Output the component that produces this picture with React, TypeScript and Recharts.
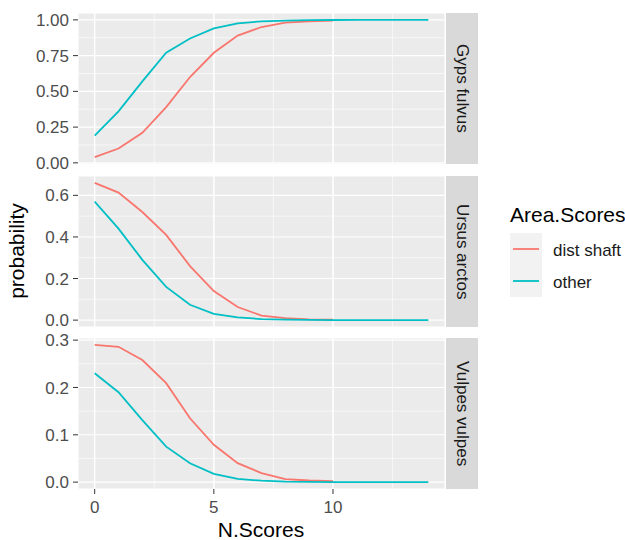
import { LineChart, Line, XAxis, YAxis, CartesianGrid, ReferenceLine } from 'recharts'

const N_SCORES = [0, 1, 2, 3, 4, 5, 6, 7, 8, 9, 10, 11, 12, 13, 14]
const AREA_SCORES = ['dist shaft', 'other']
const AREA_COLORS = ['#F8766D', '#00BFC4']

// Gyps fulvus
const GYPS_DIST = [0.04, 0.1, 0.21, 0.39, 0.6, 0.77, 0.89, 0.95, 0.98, 0.99, 0.995]
const GYPS_OTHER = [0.19, 0.36, 0.57, 0.77, 0.87, 0.94, 0.975, 0.99, 0.995, 0.998, 0.999, 1, 1, 1, 1]
// Ursus arctos
const URSUS_DIST = [0.66, 0.613, 0.52, 0.41, 0.26, 0.14, 0.063, 0.022, 0.01, 0.004, 0.002]
const URSUS_OTHER = [0.57, 0.44, 0.29, 0.16, 0.074, 0.03, 0.013, 0.005, 0.002, 0.001, 0.0005, 0.0002, 0.0001, 0, 0]
// Vulpes vulpes
const VULPES_DIST = [0.29, 0.286, 0.258, 0.209, 0.135, 0.079, 0.04, 0.019, 0.0063, 0.0035, 0.002]
const VULPES_OTHER = [0.23, 0.19, 0.131, 0.075, 0.04, 0.0176, 0.007, 0.003, 0.001, 0.0005, 0.0002, 0.0001, 0, 0, 0]

const X_TICKS = [0, 5, 10]
const X_MINOR = [2.5, 7.5, 12.5]
const GYPS_TICKS = [0, 0.25, 0.5, 0.75, 1]
const GYPS_MINOR = [0.125, 0.375, 0.625, 0.875]
const URSUS_TICKS = [0, 0.2, 0.4, 0.6]
const URSUS_MINOR = [0.1, 0.3, 0.5]
const VULPES_TICKS = [0, 0.1, 0.2, 0.3]
const VULPES_MINOR = [0.05, 0.15, 0.25]

const FONT = '"Liberation Sans", Arial, sans-serif'
const PANEL_H = 151
const CHART_W = 445
const AXIS_W = 78
const PAD = 12 // room above/below each panel so edge tick labels are kept

interface PanelProps {
  top: number
  label: string
  dist: number[]
  other: number[]
  ticks: number[]
  minor: number[]
  digits: number
  showX?: boolean
}

function Panel({ top, label, dist, other, ticks, minor, digits, showX }: PanelProps) {
  const data = N_SCORES.map((x, i) => ({
    x,
    dist: i < dist.length ? dist[i] : null,
    other: i < other.length ? other[i] : null,
  }))
  const vals = [...dist, ...other]
  const lo = Math.min(...vals)
  const hi = Math.max(...vals)
  const pad = (hi - lo) * 0.05
  const xPad = (N_SCORES[N_SCORES.length - 1] - N_SCORES[0]) * 0.05
  const tickStyle = { fontSize: 17, fill: '#4D4D4D', fontFamily: FONT }

  return (
    <>
      <div style={{ position: 'absolute', left: 0, top: top - PAD }}>
        <LineChart
          width={CHART_W}
          height={PANEL_H + 2 * PAD + (showX ? 40 : 0)}
          data={data}
          margin={{ top: PAD, right: 0, bottom: PAD, left: 0 }}
        >
          <CartesianGrid fill="#EBEBEB" stroke="#FFFFFF" strokeWidth={1.1} />
          <XAxis
            type="number"
            dataKey="x"
            domain={[N_SCORES[0] - xPad, N_SCORES[N_SCORES.length - 1] + xPad]}
            ticks={X_TICKS}
            interval={0}
            hide={!showX}
            height={40}
            axisLine={false}
            tickSize={5}
            tickMargin={7}
            tickLine={{ stroke: '#333333' }}
            tick={tickStyle}
          />
          <YAxis
            type="number"
            domain={[lo - pad, hi + pad]}
            ticks={ticks}
            interval={0}
            width={AXIS_W}
            axisLine={false}
            tickSize={5}
            tickMargin={4}
            tickLine={{ stroke: '#333333' }}
            tick={tickStyle}
            tickFormatter={(v: number) => v.toFixed(digits)}
          />
          {minor.map((v) => (
            <ReferenceLine key={'ym' + v} y={v} stroke="#FFFFFF" strokeWidth={0.6} />
          ))}
          {X_MINOR.map((v) => (
            <ReferenceLine key={'xm' + v} x={v} stroke="#FFFFFF" strokeWidth={0.6} />
          ))}
          {X_TICKS.map((v) => (
            <ReferenceLine key={'xM' + v} x={v} stroke="#FFFFFF" strokeWidth={1.1} />
          ))}
          <Line
            type="linear"
            dataKey="dist"
            name={AREA_SCORES[0]}
            stroke={AREA_COLORS[0]}
            strokeWidth={1.8}
            dot={false}
            isAnimationActive={false}
          />
          <Line
            type="linear"
            dataKey="other"
            name={AREA_SCORES[1]}
            stroke={AREA_COLORS[1]}
            strokeWidth={1.8}
            dot={false}
            isAnimationActive={false}
          />
        </LineChart>
      </div>
      <div
        style={{
          position: 'absolute',
          left: 446,
          top,
          width: 32,
          height: PANEL_H,
          background: '#D9D9D9',
          display: 'flex',
          alignItems: 'center',
          justifyContent: 'center',
          writingMode: 'vertical-rl',
          fontFamily: FONT,
          fontSize: 17,
          color: '#1A1A1A',
        }}
      >
        {label}
      </div>
    </>
  )
}

export default function App() {
  return (
    <div
      style={{
        position: 'absolute',
        left: 0,
        top: 0,
        width: 625,
        height: 540,
        background: '#FFFFFF',
        overflow: 'hidden',
      }}
    >
      <Panel top={13} label="Gyps fulvus" dist={GYPS_DIST} other={GYPS_OTHER} ticks={GYPS_TICKS} minor={GYPS_MINOR} digits={2} />
      <Panel top={176} label="Ursus arctos" dist={URSUS_DIST} other={URSUS_OTHER} ticks={URSUS_TICKS} minor={URSUS_MINOR} digits={1} />
      <Panel top={338} label="Vulpes vulpes" dist={VULPES_DIST} other={VULPES_OTHER} ticks={VULPES_TICKS} minor={VULPES_MINOR} digits={1} showX />
      <svg
        width={625}
        height={540}
        style={{ position: 'absolute', left: 0, top: 0, pointerEvents: 'none' }}
        fontFamily={FONT}
      >
        <text transform="translate(24,251) rotate(-90)" textAnchor="middle" fontSize={21} fill="#000000">
          probability
        </text>
        <text x={261} y={537} textAnchor="middle" fontSize={21} fill="#000000">
          N.Scores
        </text>
        <text x={510} y={222} fontSize={21} fill="#000000">
          Area.Scores
        </text>
        {AREA_SCORES.map((name, i) => (
          <g key={name}>
            <rect x={510} y={233 + i * 32} width={32} height={32} fill="#F2F2F2" />
            <line x1={513} x2={539} y1={249 + i * 32} y2={249 + i * 32} stroke={AREA_COLORS[i]} strokeWidth={1.8} />
            <text x={553} y={256 + i * 32} fontSize={17} fill="#1A1A1A">
              {name}
            </text>
          </g>
        ))}
      </svg>
    </div>
  )
}
